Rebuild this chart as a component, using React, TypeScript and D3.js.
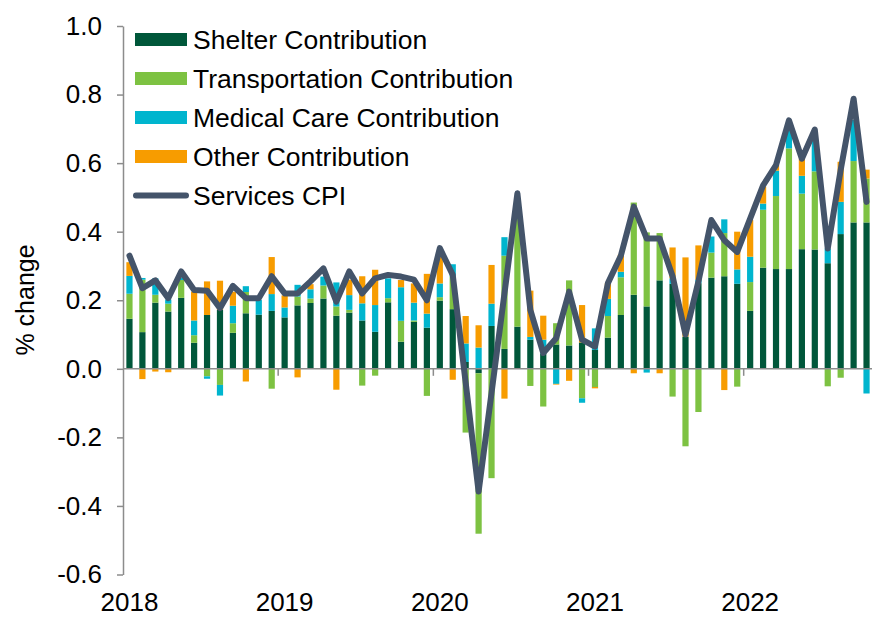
import React, { useEffect, useRef } from 'react';
import * as d3 from 'd3';

// monthly categories, Jan 2018 .. Oct 2022
const months = d3.timeMonths(new Date(2018, 0, 1), new Date(2022, 10, 1));
const yearLabels = ['2018', '2019', '2020', '2021', '2022'];
const yTicks = [-0.6, -0.4, -0.2, 0, 0.2, 0.4, 0.6, 0.8, 1.0];

// contributions, percentage points
const shelter = [
  0.146, 0.107, 0.193, 0.167, 0.207, 0.076, 0.157, 0.172, 0.105, 0.162, 0.158, 0.169,
  0.15, 0.185, 0.192, 0.205, 0.155, 0.164, 0.141, 0.108, 0.194, 0.079, 0.137, 0.12,
  0.199, 0.174, 0.02, -0.013, 0.125, 0.058, 0.123, 0.085, 0.044, 0.071, 0.068, 0.077,
  0.055, 0.091, 0.157, 0.216, 0.182, 0.258, 0.248, 0.094, 0.25, 0.266, 0.27, 0.248,
  0.169, 0.295, 0.291, 0.291, 0.349, 0.348, 0.308, 0.393, 0.427, 0.427,
];
const transportation = [
  0.073, 0.153, 0.023, 0.023, 0.052, 0.022, -0.022, -0.047, 0.028, 0.062, 0, -0.058,
  0, 0.026, 0.013, 0.038, 0.027, 0.008, -0.049, -0.02, 0.012, 0.061, 0.004, -0.079,
  0.01, 0.095, -0.186, -0.468, -0.319, 0.272, 0.34, -0.05, -0.11, 0.062, 0.19, -0.086,
  -0.053, 0.063, 0.11, 0.269, 0.216, 0.138, -0.081, -0.226, -0.126, 0.073, 0.126, -0.052,
  0.084, 0.169, 0.213, 0.352, 0.162, 0.228, -0.051, -0.026, 0.179, 0.128,
];
const medicalCare = [
  0.052, 0.005, 0.048, 0.012, 0.007, 0.043, -0.007, -0.031, 0.051, 0.017, 0.043, 0.049,
  0.029, 0.034, 0.027, 0.026, 0.07, 0.043, 0.05, 0.078, 0.058, 0.098, 0.052, 0.041,
  0.04, 0.036, 0.054, 0.062, 0.065, 0.054, 0, 0.008, 0.041, -0.044, 0, -0.013,
  0.063, 0.05, 0.016, 0, -0.011, 0, 0.016, 0, 0.01, 0.047, 0.04, 0.042,
  0.074, 0.018, 0.074, 0.058, 0.052, 0.1, 0.043, 0.094, 0.12, -0.072,
];
const other = [
  0.04, -0.03, -0.008, -0.01, 0, 0.084, 0.098, 0.085, 0.041, -0.037, 0, 0.108,
  0.035, -0.025, 0.015, 0, -0.061, 0.045, 0.079, 0.103, 0, 0.021, 0.056, 0.116,
  0.08, -0.032, 0.08, 0.065, 0.113, -0.087, 0, 0.135, 0.07, -0.002, -0.035, 0.109,
  -0.004, 0.046, 0.05, -0.013, 0, -0.013, 0.09, 0.231, 0.1, 0, -0.062, 0.11,
  0.107, 0.05, 0.017, 0, 0.05, 0, 0, 0.117, 0, 0.026,
];
const servicesCpi = [
  0.33, 0.235, 0.258, 0.206, 0.284, 0.23, 0.228, 0.177, 0.242, 0.206, 0.206, 0.27,
  0.22, 0.22, 0.255, 0.293, 0.196, 0.284, 0.22, 0.264, 0.274, 0.269, 0.26, 0.2,
  0.352, 0.274, -0.04, -0.358, -0.07, 0.22, 0.512, 0.172, 0.046, 0.089, 0.225, 0.085,
  0.065, 0.25, 0.33, 0.473, 0.38, 0.38, 0.27, 0.1, 0.255, 0.434, 0.375, 0.341,
  0.438, 0.535, 0.594, 0.725, 0.613, 0.698, 0.351, 0.58, 0.788, 0.487,
];

const series = [
  { key: 'shelter', name: 'Shelter Contribution', color: '#00573A', values: shelter },
  { key: 'transportation', name: 'Transportation Contribution', color: '#7DC242', values: transportation },
  { key: 'medical', name: 'Medical Care Contribution', color: '#00B5CE', values: medicalCare },
  { key: 'other', name: 'Other Contribution', color: '#F79C00', values: other },
];

const W = 872;
const H = 617;
const FONT = "'Liberation Sans', Arial, sans-serif";
const AXIS = '#8C8C8C';
const LINE = '#44546A';

const fmt = (d: number) => d3.format('.1f')(d).replace('\u2212', '-');

export default function App() {
  const yAxisRef = useRef<SVGGElement>(null);

  const x = d3
    .scaleBand<number>()
    .domain(d3.range(months.length))
    .range([123, 873])
    .paddingInner(0.52)
    .paddingOuter(0.26);
  const y = d3.scaleLinear().domain([-0.6, 1.0]).range([574.5, 26]);
  const bw = x.bandwidth();
  const step = x.step();

  const table = months.map((m, i) => {
    const row: any = { i };
    series.forEach(s => (row[s.key] = s.values[i]));
    return row;
  });
  const stacked = d3
    .stack<any>()
    .keys(series.map(s => s.key))
    .offset(d3.stackOffsetDiverging)(table);

  const line = d3
    .line<number>()
    .x((d, i) => (x(i) as number) + bw / 2)
    .y(d => y(d));

  useEffect(() => {
    const g = d3.select(yAxisRef.current);
    g.selectAll('*').remove();
    g.call(
      d3
        .axisLeft(y)
        .tickValues(yTicks)
        .tickFormat(d => fmt(+d))
        .tickSize(6)
        .tickSizeOuter(0)
        .tickPadding(15)
    );
    g.select('.domain').attr('stroke', AXIS).attr('stroke-width', 1.5);
    g.selectAll('.tick line').attr('stroke', AXIS).attr('stroke-width', 1.5);
    g.selectAll('.tick text')
      .attr('fill', '#000')
      .style('font-family', FONT)
      .style('font-size', '26px');
  });

  const legendRows = [...series.map(s => ({ name: s.name, color: s.color, line: false })),
    { name: 'Services CPI', color: LINE, line: true }];

  return (
    <div style={{ position: 'absolute', left: 0, top: 0 }}>
      <svg width={W} height={H} viewBox={`0 0 ${W} ${H}`} style={{ display: 'block', background: '#fff' }}>
        {/* bars */}
        {stacked.map((layer, li) => (
          <g key={layer.key} fill={series[li].color}>
            {layer.map((d, i) =>
              d[1] - d[0] === 0 ? null : (
                <rect
                  key={i}
                  x={x(i)}
                  y={y(Math.max(d[0], d[1]))}
                  width={bw}
                  height={Math.abs(y(d[0]) - y(d[1]))}
                />
              )
            )}
          </g>
        ))}

        {/* zero line and year ticks */}
        <line x1={123} x2={873} y1={y(0)} y2={y(0)} stroke={AXIS} strokeWidth={1.5} />
        {yearLabels.slice(1).map((yr, k) => {
          const xb = 123 + step * 12 * (k + 1);
          return <line key={yr} x1={xb} x2={xb} y1={y(0)} y2={y(0) + 7} stroke={AXIS} strokeWidth={1.5} />;
        })}

        <g ref={yAxisRef} transform="translate(123,0)" />

        {/* year labels */}
        {yearLabels.map((yr, k) => (
          <text
            key={yr}
            x={(x(k * 12) as number) + bw / 2}
            y={611}
            textAnchor="middle"
            fontFamily={FONT}
            fontSize={26}
            fill="#000"
          >
            {yr}
          </text>
        ))}

        {/* services CPI line */}
        <path
          d={line(servicesCpi) || ''}
          fill="none"
          stroke={LINE}
          strokeWidth={6}
          strokeLinejoin="round"
          strokeLinecap="round"
        />

        {/* y title */}
        <text
          transform="translate(34,300) rotate(-90)"
          textAnchor="middle"
          fontFamily={FONT}
          fontSize={25}
          fill="#000"
        >
          % change
        </text>

        {/* legend */}
        {legendRows.map((r, i) => {
          const cy = 39.5 + 39 * i;
          return (
            <g key={r.name}>
              {r.line ? (
                <line x1={136} x2={186} y1={cy} y2={cy} stroke={r.color} strokeWidth={6} strokeLinecap="round" />
              ) : (
                <rect x={135} y={cy - 6.5} width={52} height={13} fill={r.color} />
              )}
              <text x={193} y={cy + 9.5} fontFamily={FONT} fontSize={26.5} fill="#000">
                {r.name}
              </text>
            </g>
          );
        })}
      </svg>
    </div>
  );
}
